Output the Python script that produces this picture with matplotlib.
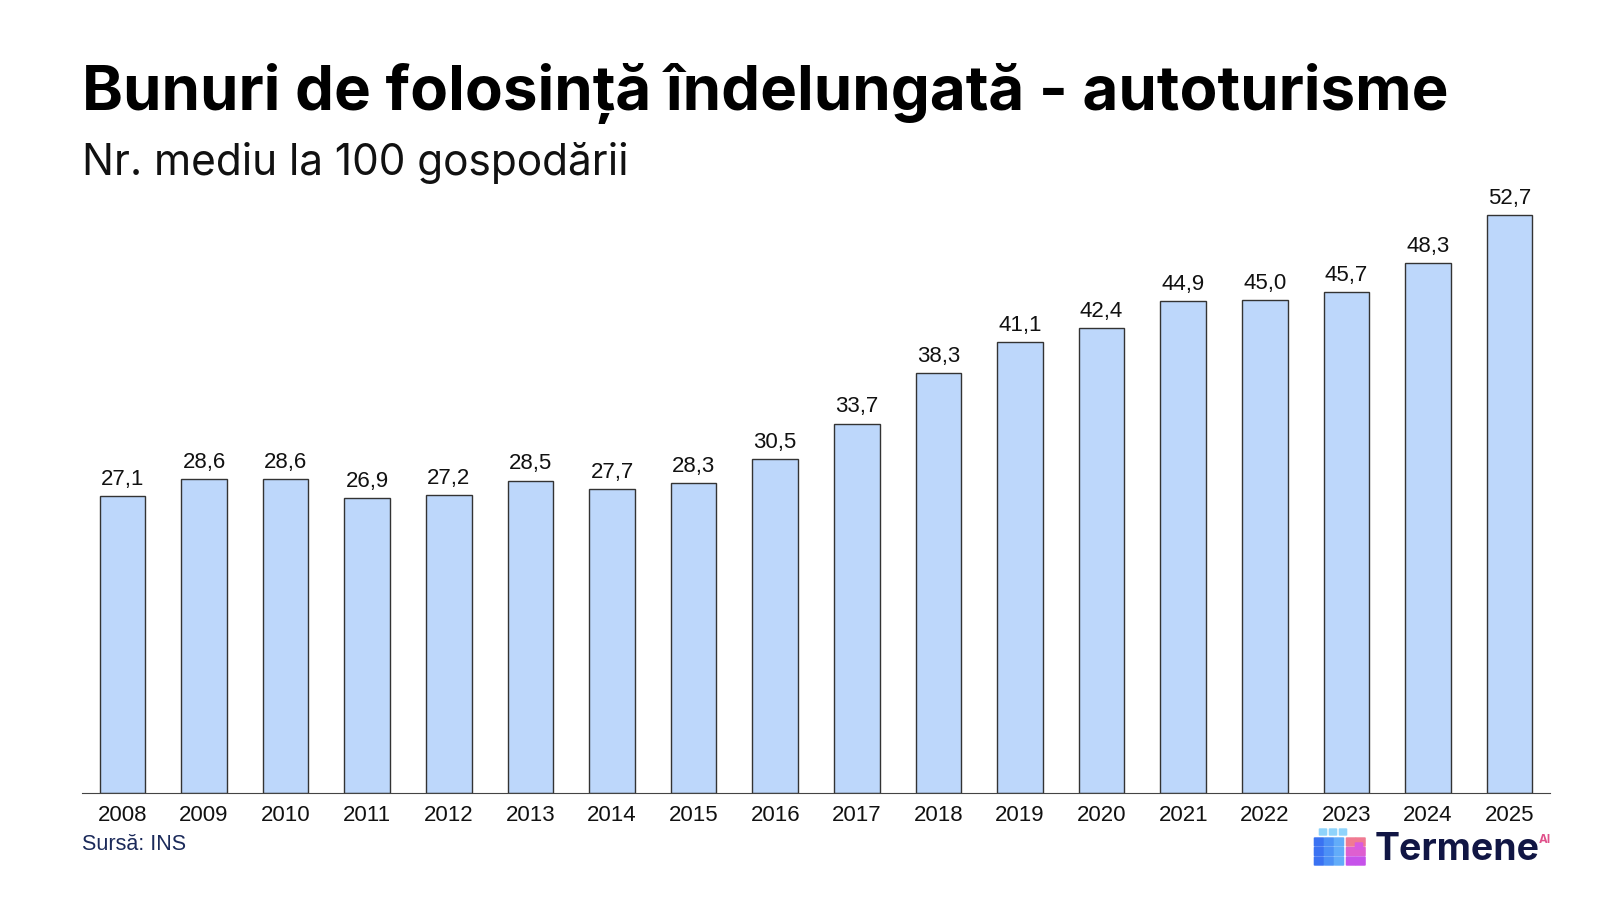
import matplotlib.pyplot as plt
from matplotlib.patches import FancyBboxPatch

years = ['2008', '2009', '2010', '2011', '2012', '2013', '2014', '2015', '2016',
         '2017', '2018', '2019', '2020', '2021', '2022', '2023', '2024', '2025']
cars = [27.1, 28.6, 28.6, 26.9, 27.2, 28.5, 27.7, 28.3, 30.5,
        33.7, 38.3, 41.1, 42.4, 44.9, 45.0, 45.7, 48.3, 52.7]

fig = plt.figure(figsize=(16, 9), dpi=100)
ax = fig.add_axes([0.051, 0.119, 0.918, 0.654])

x = range(len(years))
bars = ax.bar(x, cars, width=0.56, color='#bdd7fb', edgecolor='#333333', linewidth=1)
for b, v in zip(bars, cars):
    ax.text(b.get_x() + b.get_width() / 2, v + 0.55, f'{v:.1f}'.replace('.', ','),
            ha='center', va='bottom', fontsize=16, family='Liberation Sans', color='#111111')

ax.set_xlim(-0.5, len(years) - 0.5)
ax.set_ylim(0, 53.7)
ax.set_xticks(list(x))
ax.set_xticklabels(years, fontsize=16, family='Liberation Sans', color='#111111')
ax.tick_params(axis='x', length=0, pad=9)
ax.set_yticks([])
for s in ['top', 'left', 'right']:
    ax.spines[s].set_visible(False)
ax.spines['bottom'].set_color('#444444')

fig.text(0.051, 0.8776, 'Bunuri de folosință îndelungată - autoturisme', fontsize=44.5,
         fontweight='bold', family='Inter', ha='left', va='baseline', color='#000000')
fig.text(0.051, 0.806, 'Nr. mediu la 100 gospodării', fontsize=30.5,
         family='Inter', ha='left', va='baseline', color='#111111')
fig.text(0.051, 0.0556, 'Sursă: INS', fontsize=15.5, family='Liberation Sans',
         color='#1b2a5a', ha='left', va='baseline')


# logo: a little cube of rounded squares (pixel positions of the logo, top-left origin)
def cell(px, py, color, size=8):
    fig.patches.append(FancyBboxPatch((px / 1600, 1 - (py + size) / 900), size / 1600, size / 900,
                                      boxstyle='round,pad=0.0008', transform=fig.transFigure,
                                      facecolor=color, edgecolor='none'))


left_cols = ['#3a72f2', '#4c90f6', '#62acf9']
for i, c in enumerate(left_cols):
    for j in range(3):
        cell(1315 + i * 10, 838 + j * 9.5, c)
for i in range(3):
    cell(1320 + i * 10, 829, '#8fd3fb', size=6)
right_cols = ['#f07a92', '#de5fd0', '#c652ea']
for j, c in enumerate(right_cols):
    for i in range(2 if j != 1 else 2):
        cell(1347 + i * 9.5, 838 + j * 9.5, c)
cell(1356, 843, '#d95ae0', size=6)

fig.text(0.859, 0.0444, 'Termene', fontsize=27, fontweight='bold',
         family='Inter', color='#111644', ha='left', va='baseline')
fig.text(0.9615, 0.0635, 'AI', fontsize=8.5, fontweight='bold',
         family='Inter', color='#e0508a', ha='left', va='baseline')

fig.savefig('out.png', dpi=100, facecolor='white')
